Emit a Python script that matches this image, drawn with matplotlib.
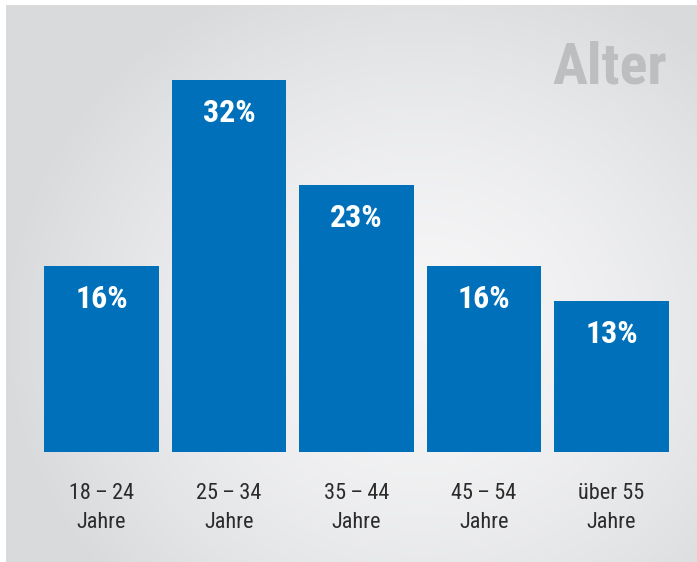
import numpy as np
import matplotlib.pyplot as plt

# data
categories = ['18\u2009–\u200924', '25\u2009–\u200934', '35\u2009–\u200944',
              '45\u2009–\u200954', 'über 55']
unit_label = 'Jahre'
values = [16, 32, 23, 16, 13]
value_labels = ['16%', '32%', '23%', '16%', '13%']
title = 'Alter'

plt.rcParams['font.family'] = ['Roboto Condensed', 'DejaVu Sans']

W, H = 697, 562
fig = plt.figure(figsize=(W / 100, H / 100), dpi=100)
fig.patch.set_facecolor('white')

# background radial gradient panel
bg = fig.add_axes([6 / W, 0, (W - 6) / W, (H - 5) / H])
bg.set_axis_off()
yy, xx = np.mgrid[0:H - 5, 6:W]
yy = yy + 5
r = np.sqrt(((xx - 420) / 420) ** 2 + ((yy - 330) / 380) ** 2)
r = np.clip(r, 0, 1)
light = np.array([0.965, 0.965, 0.970])
dark = np.array([0.850, 0.855, 0.862])
img = light + (dark - light) * (r[..., None] ** 1.6)
bg.imshow(img, aspect='auto', interpolation='bilinear')

# bars
ax = fig.add_axes([44 / W, 110 / H, 625 / W, 372 / H])
ax.patch.set_alpha(0)
x = np.arange(len(values))
ax.bar(x, values, width=0.9, color='#0070ba')
ax.set_xlim(-0.45, 4.45)
ax.set_ylim(0, 32)
ax.set_axis_off()

for xi, v, lab in zip(x, values, value_labels):
    ax.annotate(lab, (xi, v), xytext=(0, -42), textcoords='offset pixels',
                ha='center', va='baseline', color='white', fontsize=23,
                fontweight='bold')

for xi, cat in zip(x, categories):
    ax.annotate(cat, (xi, H - 499), xycoords=('data', 'figure pixels'),
                ha='center', va='baseline', color='#2b2b2b', fontsize=16)
    ax.annotate(unit_label, (xi, H - 528), xycoords=('data', 'figure pixels'),
                ha='center', va='baseline', color='#2b2b2b', fontsize=16)

fig.text(667 / W, 1 - 84 / H, title, ha='right', va='baseline',
         fontsize=42, fontweight='bold', color='#bdbec0')

fig.savefig('out.png', dpi=100)
